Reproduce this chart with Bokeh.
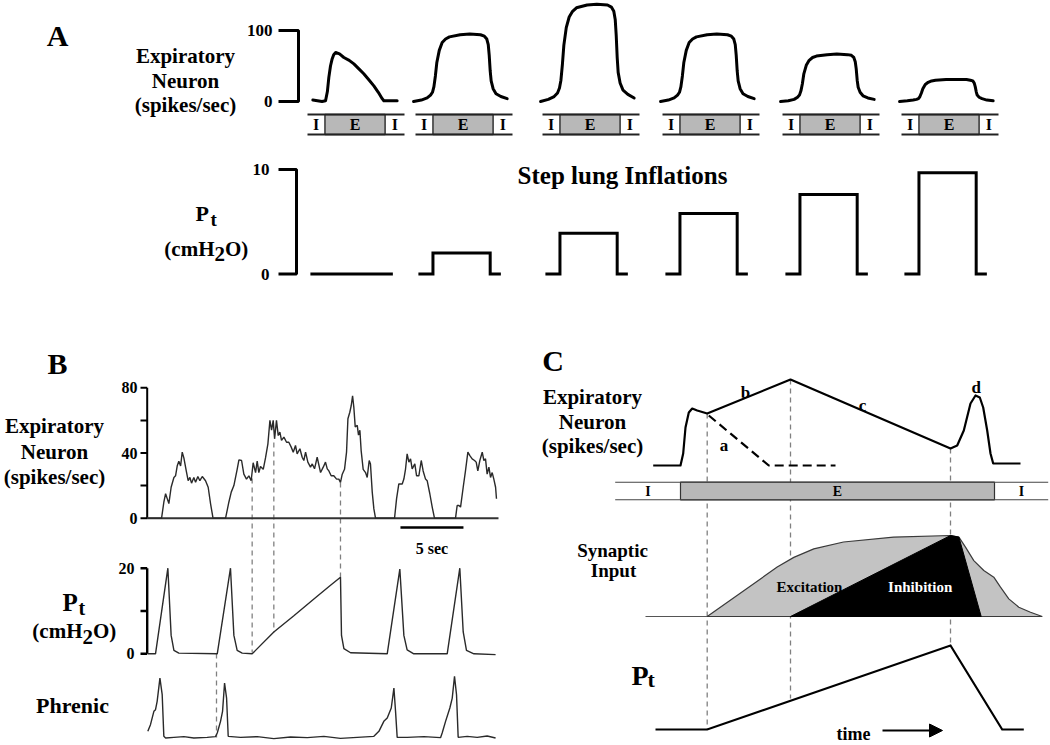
from bokeh.plotting import figure
from bokeh.models import Range1d, Arrow, NormalHead
from bokeh.embed import file_html
from bokeh.resources import INLINE
from bokeh.core.properties import value

# ======================= DATA =======================
# ---- Panel A : step lung inflations ----
A_PT = [0, 2.0, 3.9, 5.8, 7.6, 9.7]                    # cmH2O per inflation
A_STEP_T = [0.03, 0.18, 0.18, 0.77, 0.77, 0.88]        # normalised cycle time
A_PHASES = ["I", "E", "I"]
A_PHASE_EDGES = [0.0, 0.18, 0.80, 1.0]
A_RATE_TICKS = [0, 100]
A_PT_TICKS = [0, 10]

A_CURVE1_T = [0.055, 0.15, 0.186, 0.205, 0.22, 0.237, 0.254, 0.27, 0.29, 0.33, 0.375,
              0.43, 0.478, 0.53, 0.58, 0.63, 0.684, 0.73, 0.77, 0.787, 0.924]
A_CURVE1 = [2, 0, 1, 14, 34, 50, 60, 66, 69, 67, 62, 58, 53, 46, 39, 31, 22, 13, 4, 1, 1]
A_CURVE_T = [-0.02, 0.06, 0.12, 0.155, 0.175, 0.19, 0.205, 0.22, 0.245, 0.275, 0.31, 0.35,
             0.46, 0.56, 0.67, 0.71, 0.735, 0.75, 0.76, 0.77, 0.78, 0.80, 0.83, 0.88, 0.945]
A_CURVE2 = [0, 2, 5, 9, 13, 21, 36, 55, 72, 83, 88, 91, 94, 95, 94, 92, 88, 80, 65, 43, 29, 18, 11, 7, 4]
A_CURVE3 = [0, 3, 7, 12, 19, 30, 52, 79, 104, 119, 127, 132, 136, 137, 136, 133, 127, 115, 93, 62, 41, 26, 16, 10, 5]
A_CURVE4 = [0, 2, 5, 9, 13, 21, 36, 55, 72, 83, 88, 91, 94, 95, 94, 92, 88, 80, 65, 43, 29, 18, 11, 7, 4]
A_CURVE5 = [0, 1, 3, 6, 9, 15, 25, 39, 51, 58, 62, 64, 66, 67, 66, 65, 62, 56, 46, 30, 20, 13, 8, 5, 3]
A_CURVE6 = [0, 1, 2, 3, 4, 7, 12, 18, 24, 27, 29, 30, 31, 31, 31, 30, 29, 26, 21, 14, 9, 6, 4, 2, 1]

# ---- Panel B : recorded traces (time in s) ----
B_NEURON_T = [0.00, 1.14, 1.32, 1.46, 1.59, 1.72, 1.90, 2.12, 2.25, 2.38,
              2.51, 2.65, 2.78, 2.91, 3.10, 3.25, 3.39, 3.52, 3.70, 3.84,
              4.02, 4.18, 4.37, 4.63, 4.84, 5.03, 5.21, 5.24, 6.22, 6.48,
              6.67, 6.88, 7.14, 7.28, 7.49, 7.67, 7.88, 8.07, 8.25, 8.41,
              8.60, 8.73, 8.86, 8.99, 9.21, 9.39, 9.58, 9.74, 9.87, 10.00,
              10.11, 10.26, 10.40, 10.53, 10.66, 10.85, 11.06, 11.24, 11.43, 11.59,
              11.77, 11.90, 12.12, 12.30, 12.43, 12.57, 12.75, 12.96, 13.10, 13.28,
              13.49, 13.76, 13.97, 14.15, 14.29, 14.42, 14.60, 14.81, 15.03, 15.21,
              15.34, 15.48, 15.66, 15.82, 15.93, 16.08, 16.19, 16.30, 16.40, 16.51,
              16.67, 16.77, 16.88, 16.98, 17.14, 17.33, 17.46, 17.62, 17.72, 17.86,
              17.99, 18.12, 19.63, 19.79, 19.97, 20.24, 20.37, 20.50, 20.63, 20.77,
              20.90, 21.03, 21.24, 21.38, 21.56, 21.75, 21.90, 22.09, 22.22, 22.43,
              22.62, 22.80, 24.47, 24.60, 24.74, 24.87, 25.08, 25.26, 25.45, 25.61,
              25.79, 25.98, 26.11, 26.24, 26.40, 26.59, 26.72, 26.85, 26.98, 27.12,
              27.25, 27.38, 27.51, 27.65, 27.72]
B_NEURON = [0, 0, 9.8, 15, 12, 9, 19, 25, 26, 32,
            35, 32, 40.5, 37, 29, 23, 25, 21.5, 25, 22,
            25.6, 23, 25.6, 23, 19, 8.8, 0.6, 0, 0, 9.8,
            16, 20, 30, 35.8, 35.4, 27, 24, 26, 23, 34,
            28, 35, 28, 31.7, 30, 37, 45.6, 60, 54, 60,
            48.7, 60, 50.7, 52.8, 47.7, 49.7, 46.6, 46.6, 43.6, 40.5,
            44.6, 39.5, 42.6, 37.4, 35.4, 40.5, 34.4, 31.3, 33.3, 30.3,
            37.4, 28, 31.3, 34.4, 30.3, 29, 26, 26, 24, 24,
            22, 27, 30, 40.5, 61, 65, 69, 75, 68, 56,
            57, 51, 54, 41.5, 30, 28, 25, 35.4, 33.3, 16,
            5.7, 0, 0, 11.9, 21, 21, 24, 30, 39.5, 34.4,
            36.4, 30.3, 33.3, 26, 26, 35.4, 29, 24, 23, 15,
            6.8, 0, 0, 7.8, 7.8, 6.8, 19, 29, 40.5, 38.4,
            36.4, 35.4, 34.4, 29, 35.4, 40.5, 35.4, 36.4, 27, 31.3,
            25, 28, 24, 19, 11.9]
B_NEURON_TICKS = [0, 20, 40, 60, 80]
B_NEURON_LABELS = [0, 40, 80]

B_PT_T = [0.05, 0.66, 1.64, 1.90, 2.12, 2.51, 5.56, 6.61, 6.88, 7.14, 7.54, 8.33, 8.60,
          10.05, 11.64, 13.23, 14.55, 15.34, 15.42, 15.61, 16.14, 19.05, 20.05, 20.37,
          20.63, 21.16, 23.81, 24.81, 25.08, 25.34, 25.93, 27.65]
B_PT = [0, 0, 20, 4.3, 0.8, 0.15, 0, 20, 4.3, 0.8, 0.15, 0, 0.8,
        5.1, 8.9, 12.8, 16, 17.9, 4.3, 1.2, 0.25, 0, 19.8, 4.3,
        0.9, 0, 0, 20, 5.1, 0.8, 0, -0.2]
B_PT_TICKS = [0, 10, 20]
B_PT_LABELS = [0, 20]

B_PHR_T = [0.05, 0.26, 0.53, 0.66, 0.79, 1.01, 1.19, 1.32, 1.46, 2.12,
           2.91, 3.70, 4.76, 5.42, 5.56, 5.82, 5.98, 6.14, 6.30, 6.43,
           7.41, 8.73, 10.05, 11.38, 12.70, 14.02, 15.34, 16.67, 17.99, 18.39,
           18.78, 19.05, 19.37, 19.58, 19.71, 19.84, 20.63, 21.96, 23.28, 23.41,
           23.68, 24.02, 24.21, 24.39, 24.55, 24.68, 25.40, 26.19, 26.98, 27.65]
B_PHR = [2, 4, 8, 8.5, 11, 18, 13, 0.5, 0, 0.2,
         0.4, 0, 0.2, 0.4, 1.5, 5, 8, 16.5, 12, 0.5,
         0.2, 0.4, -0.2, 0.3, 0.1, 0.5, -0.1, 0.2, 0.5, 2,
         5, 6, 9, 15, 8, 0.2, 0.2, 0.4, 0.1, 1.5,
         5, 9, 12, 18.5, 13, 0.2, 0.5, 0.2, 0.6, 0]
B_EVENT_T = [8.33, 10.05, 15.34, 5.5]          # dashed event markers (s)
B_SCALE_T = [20.1, 25.1]                        # 5 sec scale bar

# ---- Panel C : schematic (arbitrary time units) ----
C_NEURON_T = [-5.4, -2.67, -2.4, -2.17, -1.84, -1.5, -1.0, 0.0, 8.33, 24.33, 25.0,
              25.66, 26.33, 26.83, 27.26, 27.6, 28.0, 28.33, 28.6, 31.33]
C_NEURON = [0, 0, 12, 38, 53, 57, 55, 52, 86, 17, 20, 35, 62, 70, 68, 58, 35, 12, 2, 2]
C_ALT_T = [0.16, 6.16, 12.83]
C_ALT = [50, 0, 0]
C_EXC_T = [0.0, 7.0, 8.66, 10.66, 13.63, 18.63, 24.33, 25.17, 25.83, 26.66, 27.66,
           28.66, 29.33, 30.16, 31.16, 32.33, 33.5]
C_EXC = [0, 61, 73, 83.5, 92, 98, 100, 98, 85.6, 69, 56.8, 48.6, 36.2, 21.8, 11.5, 5.3, 0]
C_INH_T = [8.33, 24.33, 25.17, 27.4]
C_INH = [0, 100, 98, 0]
C_PT_T = [-5.17, 0.0, 24.33, 29.5, 31.66]
C_PT = [0, 0, 100, 0, 0]
C_SYN_BASE_T = [-6.17, 33.5]
C_PHASES = ["I", "E", "I"]
C_PHASE_EDGES = [-9.2, -2.67, 28.73, 34.1]
C_EVENT_T = [0.0, 8.33, 24.33]
C_LETTERS = ["a", "b", "c", "d"]

# ======================= LAYOUT =======================
W, H = 1050, 745
X0, Y0 = 0, 0
SERIF = "Liberation Serif"


def xr(v0, p0, v1, p1):
    s = (p1 - p0) / (v1 - v0)
    return Range1d(start=v0 + (X0 - p0) / s, end=v0 + (X0 + W - p0) / s)


def yr(v0, p0, v1, p1):
    s = (p1 - p0) / (v1 - v0)
    return Range1d(start=v0 + (Y0 + H - p0) / s, end=v0 + (Y0 - p0) / s)


p = figure(width=W, height=H, x_range=Range1d(X0, X0 + W), y_range=Range1d(Y0 + H, Y0),
           output_backend="svg", toolbar_location=None, min_border=0,
           x_axis_location=None, y_axis_location=None)
p.grid.visible = False
p.outline_line_color = None
p.background_fill_color = "white"

A_COL_LEFT = [307, 415, 542, 662, 782, 901]
A_COL_W = 97
xranges = {}
for k, left in enumerate(A_COL_LEFT):
    xranges[f"a{k}"] = xr(0, left, 1, left + A_COL_W)
xranges["bt"] = xr(0, 146.7, 5, 209.7)
xranges["ct"] = xr(0, 706.7, 10, 806.7)
p.extra_x_ranges = xranges
p.extra_y_ranges = {
    "ar": yr(0, 101, 100, 30),
    "ap": yr(0, 273.5, 10, 169),
    "bn": yr(0, 517.7, 80, 387.3),
    "bp": yr(0, 653.3, 20, 567.7),
    "bph": yr(0, 737.5, 10, 704.2),
    "cn": yr(0, 465, 100, 365),
    "cs": yr(0, 616, 100, 535),
    "cp": yr(0, 729, 100, 645),
}


def txt(x, y, s, size, align="center", color="black", baseline="alphabetic",
        xname="default", yname="default"):
    p.text(x=[x], y=[y], text=[s], text_font=value(SERIF), text_font_style="bold",
           text_font_size=f"{size}px", text_align=align, text_baseline=baseline,
           text_color=color, x_range_name=xname, y_range_name=yname)


# ----------------------------- Panel A -----------------------------
txt(57, 35, "A", 30)
for yy, s in zip([55, 80, 104], ["Expiratory", "Neuron", "(spikes/sec)"]):
    txt(185, yy, s, 21)
txt(195, 212.7, "P", 22, align="left")
txt(210, 218.5, "t", 19, align="left")
txt(214, 248, "(cmH", 21, align="right")
txt(214, 253.5, "2", 21, align="left")
txt(224.5, 248, "O)", 21, align="left")
txt(622, 175, "Step lung Inflations", 25)

# brackets
p.line(x=[278, 298, 298, 278], y=[A_RATE_TICKS[1], A_RATE_TICKS[1], A_RATE_TICKS[0], A_RATE_TICKS[0]],
       y_range_name="ar", color="black", line_width=3)
for v in A_RATE_TICKS:
    txt(272, v, str(v), 17, align="right", baseline="middle", yname="ar")
p.line(x=[278, 296, 296, 278], y=[A_PT_TICKS[1], A_PT_TICKS[1], A_PT_TICKS[0], A_PT_TICKS[0]],
       y_range_name="ap", color="black", line_width=3)
for v in A_PT_TICKS:
    txt(269, v, str(v), 17, align="right", baseline="middle", yname="ap")

curves_t = [A_CURVE1_T, A_CURVE_T, A_CURVE_T, A_CURVE_T, A_CURVE_T, A_CURVE_T]
curves_v = [A_CURVE1, A_CURVE2, A_CURVE3, A_CURVE4, A_CURVE5, A_CURVE6]
for k in range(6):
    name = f"a{k}"
    p.line(x=curves_t[k], y=curves_v[k], x_range_name=name, y_range_name="ar",
           color="black", line_width=3, line_join="round", line_cap="round")
    # I / E / I bar
    p.quad(left=[A_PHASE_EDGES[1]], right=[A_PHASE_EDGES[2]], top=[114], bottom=[134],
           x_range_name=name, fill_color="#b8b8b8", line_color="#333333", line_width=1.5)
    p.segment(x0=[A_PHASE_EDGES[0]] * 2, x1=[A_PHASE_EDGES[-1]] * 2, y0=[114, 134], y1=[114, 134],
              x_range_name=name, color="#222222", line_width=1.8)
    for i, ph in enumerate(A_PHASES):
        mid = (A_PHASE_EDGES[i] + A_PHASE_EDGES[i + 1]) / 2
        txt(mid, 124, ph, 16, baseline="middle", xname=name)
    # pressure step
    pt = A_PT[k]
    p.line(x=A_STEP_T, y=[0, 0, pt, pt, 0, 0], x_range_name=name, y_range_name="ap",
           color="black", line_width=3, line_join="miter")

# ----------------------------- Panel B -----------------------------
txt(57, 363, "B", 30)
for yy, s in zip([425, 451.7, 476.7], ["Expiratory", "Neuron", "(spikes/sec)"]):
    txt(54, yy, s, 21)
txt(62, 601.7, "P", 25, align="left")
txt(78, 607.5, "t", 20, align="left")
txt(82, 630.7, "(cmH", 21, align="right")
txt(82, 636.5, "2", 21, align="left")
txt(92.5, 630.7, "O)", 21, align="left")
txt(72, 705, "Phrenic", 22)

# event markers
ev_y = [(478, 652), (442, 632), (482, 577), (653, 737)]
p.segment(x0=B_EVENT_T, x1=B_EVENT_T, y0=[a for a, b in ev_y], y1=[b for a, b in ev_y],
          x_range_name="bt", color="#808080", line_width=1.3, line_dash="5 4")

# neuron axis
p.line(x=[146.7, 146.7], y=[B_NEURON_TICKS[0], B_NEURON_TICKS[-1]], y_range_name="bn",
       color="black", line_width=2)
p.segment(x0=[140] * len(B_NEURON_TICKS), x1=[146.7] * len(B_NEURON_TICKS),
          y0=B_NEURON_TICKS, y1=B_NEURON_TICKS, y_range_name="bn", color="black", line_width=2)
for v in B_NEURON_LABELS:
    txt(137, v, str(v), 16, align="right", baseline="middle", yname="bn")
p.line(x=[0, 27.88], y=[0, 0], x_range_name="bt", y_range_name="bn", color="#333333", line_width=2)
p.line(x=B_NEURON_T, y=B_NEURON, x_range_name="bt", y_range_name="bn",
       color="#2a2a2a", line_width=1.4)
# scale bar
p.line(x=B_SCALE_T, y=[527, 527], x_range_name="bt", color="black", line_width=2.5)
txt((B_SCALE_T[0] + B_SCALE_T[1]) / 2, 548.3, "5 sec", 16, xname="bt")

# pressure axis
p.line(x=[146.7, 146.7], y=[B_PT_TICKS[0], B_PT_TICKS[-1]], y_range_name="bp",
       color="black", line_width=2.4)
p.segment(x0=[140] * len(B_PT_TICKS), x1=[146.7] * len(B_PT_TICKS),
          y0=B_PT_TICKS, y1=B_PT_TICKS, y_range_name="bp", color="black", line_width=2.4)
for v in B_PT_LABELS:
    txt(134, v, str(v), 16, align="right", baseline="middle", yname="bp")
p.line(x=B_PT_T, y=B_PT, x_range_name="bt", y_range_name="bp", color="#2a2a2a", line_width=1.4)
p.line(x=B_PHR_T, y=B_PHR, x_range_name="bt", y_range_name="bph", color="#2a2a2a", line_width=1.4)

# ----------------------------- Panel C -----------------------------
txt(552.5, 360, "C", 30)
for yy, s in zip([396.7, 421.7, 445], ["Expiratory", "Neuron", "(spikes/sec)"]):
    txt(592, yy, s, 21)
txt(612, 550, "Synaptic", 19)
txt(613, 570, "Input", 19)
txt(631, 675, "P", 28, align="left")
txt(647, 679, "t", 22, align="left")

ev_c = [(413, 729), (379, 698), (448, 645)]
p.segment(x0=C_EVENT_T, x1=C_EVENT_T, y0=[a for a, b in ev_c], y1=[b for a, b in ev_c],
          x_range_name="ct", color="#808080", line_width=1.3, line_dash="5 4")

# I / E / I bar
p.quad(left=[C_PHASE_EDGES[1]], right=[C_PHASE_EDGES[2]], top=[481.7], bottom=[499.3],
       x_range_name="ct", fill_color="#b8b8b8", line_color="#333333", line_width=1.2)
p.segment(x0=[C_PHASE_EDGES[0]] * 2, x1=[C_PHASE_EDGES[-1]] * 2, y0=[481.7, 499.3], y1=[481.7, 499.3],
          x_range_name="ct", color="#444444", line_width=1.1)
for i, ph in enumerate(C_PHASES):
    mid = (C_PHASE_EDGES[i] + C_PHASE_EDGES[i + 1]) / 2
    txt(mid, 490.5, ph, 14, baseline="middle", xname="ct")

p.line(x=C_NEURON_T, y=C_NEURON, x_range_name="ct", y_range_name="cn",
       color="black", line_width=2.2, line_join="round")
p.line(x=C_ALT_T, y=C_ALT, x_range_name="ct", y_range_name="cn",
       color="black", line_width=2.2, line_dash="9 5")
for s, (lx, ly) in zip(C_LETTERS, [(723.5, 445), (745, 391.7), (862, 405), (975.7, 387)]):
    txt(lx, ly, s, 17)

# synaptic input
p.line(x=C_SYN_BASE_T, y=[0, 0], x_range_name="ct", y_range_name="cs", color="#555555", line_width=1.2)
p.patch(x=C_EXC_T, y=C_EXC, x_range_name="ct", y_range_name="cs",
        fill_color="#c3c3c3", line_color="#3a3a3a", line_width=1.2)
p.patch(x=C_INH_T, y=C_INH, x_range_name="ct", y_range_name="cs",
        fill_color="black", line_color="black", line_width=1)
txt(809, 586, "Excitation", 15)
txt(919.7, 586, "Inhibition", 15, color="white")

# transpulmonary pressure schematic
p.line(x=C_PT_T, y=C_PT, x_range_name="ct", y_range_name="cp",
       color="black", line_width=2.2, line_join="miter")
txt(853, 733, "time", 18)
p.add_layout(Arrow(end=NormalHead(size=13, fill_color="black", line_color="black"),
                   x_start=882, y_start=730, x_end=942, y_end=730,
                   line_color="black", line_width=2))

open("out.html", "w").write(file_html(p, INLINE, title="Expiratory neuron responses"))
